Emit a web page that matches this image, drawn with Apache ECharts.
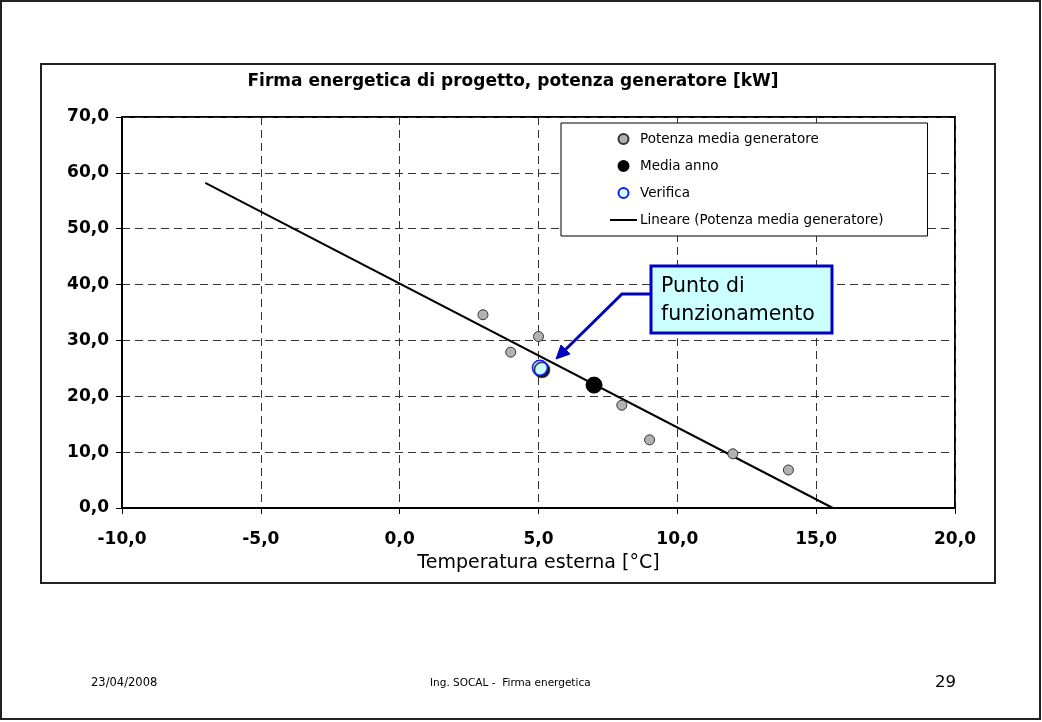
<!DOCTYPE html>
<html>
<head>
<meta charset="utf-8">
<script src="https://cdn.jsdelivr.net/npm/echarts@6/dist/echarts.min.js"></script>
<style>
  html, body { margin: 0; padding: 0; background: #fff; }
  #chart { width: 1042px; height: 722px; }
</style>
</head>
<body>
<div id="chart"></div>
<script>
// dati
var potenzaMedia = [[3, 34.6], [4, 27.9], [5, 30.7], [8, 18.4], [9, 12.2], [12, 9.7], [14, 6.8]];
var mediaAnno = [[7, 22.0]];
var verifica = [[5.05, 25.1]];
var lineare = [[-7, 58.2], [15.6, 0]];

var xTicks = { min: -10, max: 20, interval: 5 };
var yTicks = { min: 0, max: 70, interval: 10 };

var FONT = '"DejaVu Sans", "Liberation Sans", Arial, sans-serif';
var fmt = function (v) { return v.toFixed(1).replace('.', ','); };

var chart = echarts.init(document.getElementById('chart'));

var option = {
  animation: false,
  backgroundColor: '#fff',
  grid: {
    left: 122, top: 117, width: 833, height: 391,
    show: true, borderColor: '#000', borderWidth: 2, backgroundColor: 'transparent'
  },
  legend: {
    orient: 'vertical',
    left: 561, top: 123,
    padding: [8, 44, 8, 48],
    itemGap: 11,
    itemWidth: 27, itemHeight: 10,
    backgroundColor: '#fff',
    borderColor: '#000', borderWidth: 1,
    textStyle: { fontFamily: FONT, fontSize: 13.5, color: '#000', lineHeight: 16, padding: [0, 0, 0, -2] },
    data: [
      'Potenza media generatore',
      'Media anno',
      'Verifica',
      { name: 'Lineare (Potenza media generatore)', itemStyle: { color: 'transparent', borderWidth: 0 } }
    ]
  },
  xAxis: {
    type: 'value',
    min: xTicks.min, max: xTicks.max, interval: xTicks.interval,
    name: 'Temperatura esterna [°C]',
    nameLocation: 'middle', nameGap: 46,
    nameTextStyle: { fontFamily: FONT, fontSize: 19, color: '#000' },
    axisLine: { show: true, onZero: false, lineStyle: { color: '#000', width: 2 } },
    axisTick: { show: true, inside: false, length: 6, lineStyle: { color: '#000', width: 1 } },
    axisLabel: { margin: 23, fontFamily: FONT, fontSize: 17, fontWeight: 'bold', color: '#000', formatter: fmt },
    splitLine: { show: true, lineStyle: { color: '#333', width: 1, type: [8, 5] } }
  },
  yAxis: {
    type: 'value',
    min: yTicks.min, max: yTicks.max, interval: yTicks.interval,
    axisLine: { show: true, onZero: false, lineStyle: { color: '#000', width: 2 } },
    axisTick: { show: true, inside: false, length: 6, lineStyle: { color: '#000', width: 1 } },
    axisLabel: { margin: 13, fontFamily: FONT, fontSize: 17, fontWeight: 'bold', color: '#000', formatter: fmt },
    splitLine: { show: true, lineStyle: { color: '#333', width: 1, type: [8, 5] } }
  },
  series: [
    {
      name: 'Lineare (Potenza media generatore)',
      type: 'line',
      data: lineare,
      symbol: 'none',
      lineStyle: { color: '#000', width: 2 },
      itemStyle: { color: '#000' },
      z: 2
    },
    {
      name: 'Potenza media generatore',
      type: 'scatter',
      data: potenzaMedia,
      symbol: 'circle',
      symbolSize: 10,
      itemStyle: { color: '#b2b2b2', borderColor: '#333', borderWidth: 1, opacity: 1 },
      z: 3
    },
    {
      name: 'Media anno',
      type: 'scatter',
      data: mediaAnno,
      symbol: 'circle',
      symbolSize: 16,
      itemStyle: { color: '#000', borderColor: '#000', borderWidth: 1, opacity: 1 },
      z: 3
    },
    {
      name: 'Verifica',
      type: 'scatter',
      data: verifica,
      symbol: 'circle',
      symbolSize: 15,
      itemStyle: {
        color: '#ccffff', borderColor: '#1a1aff', borderWidth: 1.5, opacity: 1,
        shadowColor: 'rgba(0,0,0,0.9)', shadowBlur: 1, shadowOffsetX: 2, shadowOffsetY: 2
      },
      z: 3
    }
  ],
  graphic: [
    // cornice della slide
    { type: 'rect', shape: { x: 1, y: 1, width: 1039, height: 718 }, style: { fill: 'none', stroke: '#222', lineWidth: 2 }, z: 0 },
    // riquadro del grafico
    { type: 'rect', shape: { x: 41, y: 64, width: 954, height: 519 }, style: { fill: 'none', stroke: '#222', lineWidth: 2 }, z: 0 },
    // titolo
    { type: 'text', x: 513, y: 73, style: { text: 'Firma energetica di progetto, potenza generatore [kW]', fontFamily: FONT, fontSize: 17, fontWeight: 'bold', fill: '#000', align: 'center', verticalAlign: 'top' }, z: 10 },
    // freccia del richiamo
    { type: 'polyline', shape: { points: [[650, 294], [622, 294], [563, 352]] }, style: { fill: 'none', stroke: '#0000c0', lineWidth: 3 }, z: 10 },
    { type: 'polygon', shape: { points: [[556, 359], [561, 345], [570, 354]] }, style: { fill: '#0000c0', stroke: '#0000c0', lineWidth: 1 }, z: 10 },
    // riquadro del richiamo
    { type: 'rect', shape: { x: 651, y: 266, width: 181, height: 67 }, style: { fill: '#ccffff', stroke: '#0000c0', lineWidth: 3 }, z: 10 },
    { type: 'text', x: 661, y: 273, style: { text: 'Punto di\nfunzionamento', fontFamily: FONT, fontSize: 20.5, lineHeight: 28, fill: '#000', align: 'left', verticalAlign: 'top' }, z: 11 },
    // piè di pagina
    { type: 'text', x: 91, y: 683, style: { text: '23/04/2008', fontFamily: FONT, fontSize: 11.5, fill: '#000', align: 'left', verticalAlign: 'middle' }, z: 10 },
    { type: 'text', x: 430, y: 683, style: { text: 'Ing. SOCAL -  Firma energetica', fontFamily: FONT, fontSize: 10.5, fill: '#000', align: 'left', verticalAlign: 'middle' }, z: 10 },
    { type: 'text', x: 935, y: 683, style: { text: '29', fontFamily: FONT, fontSize: 16.5, fill: '#000', align: 'left', verticalAlign: 'middle' }, z: 10 }
  ]
};

chart.setOption(option);
</script>
</body>
</html>
